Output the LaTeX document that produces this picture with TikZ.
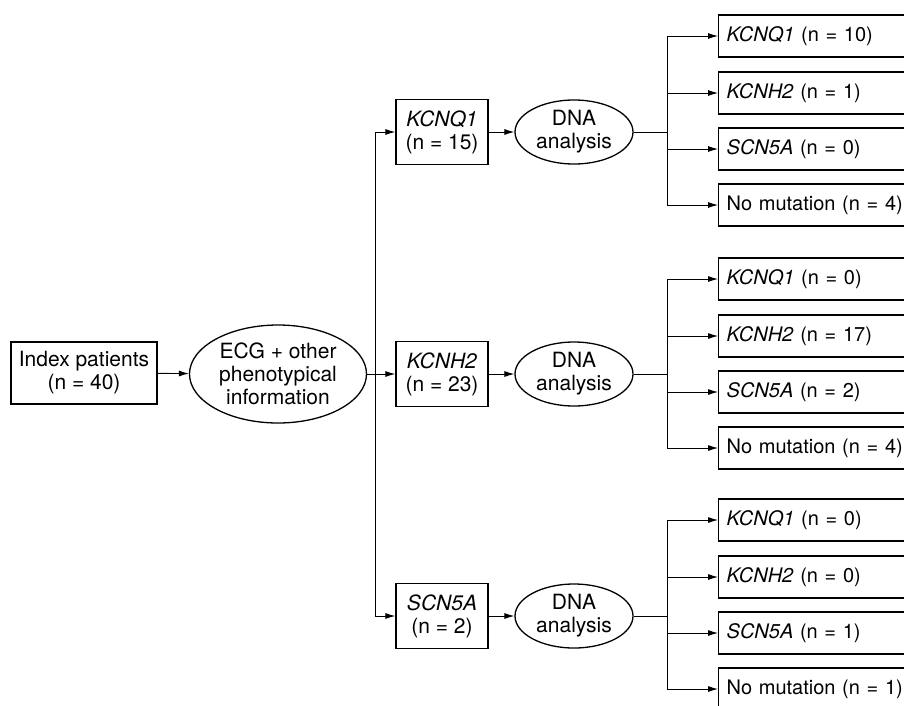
\documentclass[tikz,border=0pt]{standalone}
\usepackage{fontspec}
\setmainfont{TeX Gyre Heros}
\usepackage{tikz}
\usetikzlibrary{arrows.meta,shapes.geometric}

\begin{document}
\begin{tikzpicture}[x=1pt,y=-1pt,
	font=\fontsize{21}{23}\selectfont,
	box/.style={draw,line width=1.3pt,align=center,minimum width=92pt,minimum height=65pt,inner sep=0pt},
	oval/.style={draw,ellipse,line width=1.3pt,align=center,inner sep=-3pt},
	result/.style={draw,line width=1.3pt,anchor=west,font=\fontsize{20}{22}\selectfont,text width=230pt,inner xsep=8pt,inner ysep=0pt,minimum height=42pt,align=left},
	link/.style={line width=0.9pt,-{Latex[length=10pt,width=6pt]}},
	plain/.style={line width=0.9pt}]
	\clip (0,0) rectangle (904,705);
	% first column
	\node[box,minimum width=146pt,minimum height=62pt] (index) at (84,373) {Index patients\\(n = 40)};
	\node[oval,minimum width=177pt,minimum height=98pt] (ecg) at (278,374) {ECG + other\\phenotypical\\information};
	\coordinate (split) at (375,374);
	% phenotype groups
	\node[box] (kcnq) at (442,132) {\textit{KCNQ1}\\(n = 15)};
	\node[box] (kcnh) at (442,374) {\textit{KCNH2}\\(n = 23)};
	\node[box] (scn) at (442,616) {\textit{SCN5A}\\(n = 2)};
	\node[oval,minimum width=118pt,minimum height=64pt] (dnaA) at (574,132) {DNA\\analysis};
	\node[oval,minimum width=118pt,minimum height=64pt] (dnaB) at (574,374) {DNA\\analysis};
	\node[oval,minimum width=118pt,minimum height=64pt] (dnaC) at (574,616) {DNA\\analysis};
	\coordinate (forkA) at (667,132);
	\coordinate (forkB) at (667,374);
	\coordinate (forkC) at (667,616);
	% results
	\node[result] (a1) at (718,36) {\textit{KCNQ1} (n = 10)};
	\node[result] (a2) at (718,93) {\textit{KCNH2} (n = 1)};
	\node[result] (a3) at (718,149) {\textit{SCN5A} (n = 0)};
	\node[result] (a4) at (718,205) {No mutation (n = 4)};
	\node[result] (b1) at (718,279) {\textit{KCNQ1} (n = 0)};
	\node[result] (b2) at (718,336) {\textit{KCNH2} (n = 17)};
	\node[result] (b3) at (718,392) {\textit{SCN5A} (n = 2)};
	\node[result] (b4) at (718,448) {No mutation (n = 4)};
	\node[result] (c1) at (718,520) {\textit{KCNQ1} (n = 0)};
	\node[result] (c2) at (718,577) {\textit{KCNH2} (n = 0)};
	\node[result] (c3) at (718,633) {\textit{SCN5A} (n = 1)};
	\node[result] (c4) at (718,689) {No mutation (n = 1)};
	% connectors
	\draw[link] (index) -- (ecg);
	\draw[plain] (ecg) -- (split);
	\draw[link] (split) |- (kcnq);
	\draw[link] (split) -- (kcnh);
	\draw[link] (split) |- (scn);
	\draw[link] (kcnq) -- (dnaA);
	\draw[link] (kcnh) -- (dnaB);
	\draw[link] (scn) -- (dnaC);
	\draw[plain] (dnaA) -- (forkA);
	\draw[plain] (dnaB) -- (forkB);
	\draw[plain] (dnaC) -- (forkC);
	\draw[link] (forkA) |- (a1);
	\draw[link] (forkA) |- (a2);
	\draw[link] (forkA) |- (a3);
	\draw[link] (forkA) |- (a4);
	\draw[link] (forkB) |- (b1);
	\draw[link] (forkB) |- (b2);
	\draw[link] (forkB) |- (b3);
	\draw[link] (forkB) |- (b4);
	\draw[link] (forkC) |- (c1);
	\draw[link] (forkC) |- (c2);
	\draw[link] (forkC) |- (c3);
	\draw[link] (forkC) |- (c4);
\end{tikzpicture}
\end{document}
